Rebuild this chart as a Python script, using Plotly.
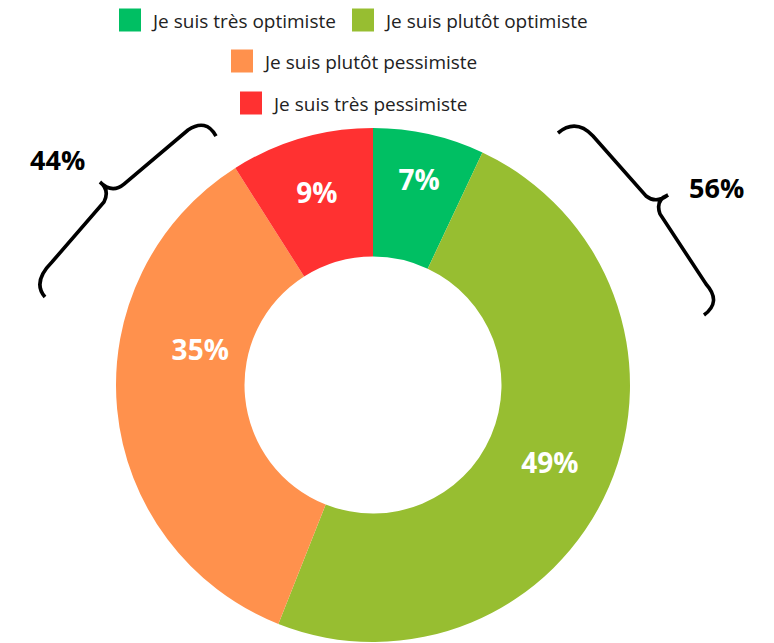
import plotly.graph_objects as go

labels = ["Je suis très optimiste", "Je suis plutôt optimiste",
          "Je suis plutôt pessimiste", "Je suis très pessimiste"]
values = [7, 49, 35, 9]
colors = ["#00BF63", "#97BE31", "#FF914D", "#FF3131"]
group_labels = ["44%", "56%"]

W, H = 774, 643
OFF = 8  # page body margin in the browser


def px(x, y):
    return (x - OFF) / W, 1 - (y - OFF) / H


def path(cmds):
    out = []
    for c in cmds:
        letter, pts = c[0], c[1:]
        s = letter
        for (x, y) in pts:
            a, b = px(x, y)
            s += f" {a:.5f},{b:.5f}"
        out.append(s)
    return " ".join(out)


x0d, y1d = px(116, 128)
x1d, y0d = px(630, 642)

NB = "\u00a0"
templates = ["%{value}%", "%{value}%", NB * 4 + "%{value}%<br> <br> ", "%{value}%"]

fig = go.Figure()
fig.add_trace(go.Pie(
    labels=labels, values=values, sort=False, direction="clockwise",
    rotation=0, hole=0.5,
    marker=dict(colors=colors, line=dict(width=0)),
    texttemplate=templates, textposition="inside",
    insidetextorientation="horizontal",
    textfont=dict(family="Open Sans", size=28, color="white", weight="bold"),
    domain=dict(x=[x0d, x1d], y=[y0d, y1d]),
    showlegend=False, hoverinfo="label+percent",
))

shapes = []
annotations = []

# Manual legend (rows as in reference)
legend_rows = [
    [(0, 119, 20), (1, 352, 20)],
    [(2, 231, 61)],
    [(3, 240, 103)],
]
for row in legend_rows:
    for idx, x0, yc in row:
        x_a, y_a = px(x0, yc - 11.5)
        x_b, y_b = px(x0 + 22, yc + 11.5)
        shapes.append(dict(type="rect", xref="paper", yref="paper",
                           x0=x_a, x1=x_b, y0=y_b, y1=y_a,
                           fillcolor=colors[idx], line=dict(width=0)))
        tx, ty = px(x0 + 30, yc + 1)
        annotations.append(dict(xref="paper", yref="paper", x=tx, y=ty,
                                xanchor="left", yanchor="middle",
                                text=labels[idx], showarrow=False,
                                font=dict(family="Open Sans", size=19, color="#222222")))

# Braces
left_brace = path([
    ("M", (216, 136)), ("Q", (206, 118), (188, 130)), ("L", (124, 184)),
    ("Q", (112, 194), (100, 182)),
    ("M", (100, 182)), ("Q", (110, 190), (104, 202)), ("L", (52, 262)),
    ("Q", (32, 282), (45, 297)),
])
right_brace = path([
    ("M", (558, 133)), ("Q", (576, 118), (593, 136)), ("L", (646, 196)),
    ("Q", (656, 204), (668, 195)),
    ("M", (668, 195)), ("Q", (655, 200), (660, 214)), ("L", (706, 284)),
    ("Q", (722, 302), (704, 315)),
])
for p in (left_brace, right_brace):
    shapes.append(dict(type="path", xref="paper", yref="paper", path=p,
                       line=dict(color="black", width=3.6)))

for txt, (x, y) in zip(group_labels, [(57, 160), (716, 187)]):
    ax, ay = px(x, y)
    annotations.append(dict(xref="paper", yref="paper", x=ax, y=ay,
                            xanchor="center", yanchor="middle", text=txt,
                            showarrow=False,
                            font=dict(family="Open Sans", size=27, color="black", weight="bold")))

fig.update_layout(
    width=W, height=H, margin=dict(l=0, r=0, t=0, b=0),
    paper_bgcolor="white", plot_bgcolor="white",
    shapes=shapes, annotations=annotations, showlegend=False,
)
fig.write_html("out.html")
